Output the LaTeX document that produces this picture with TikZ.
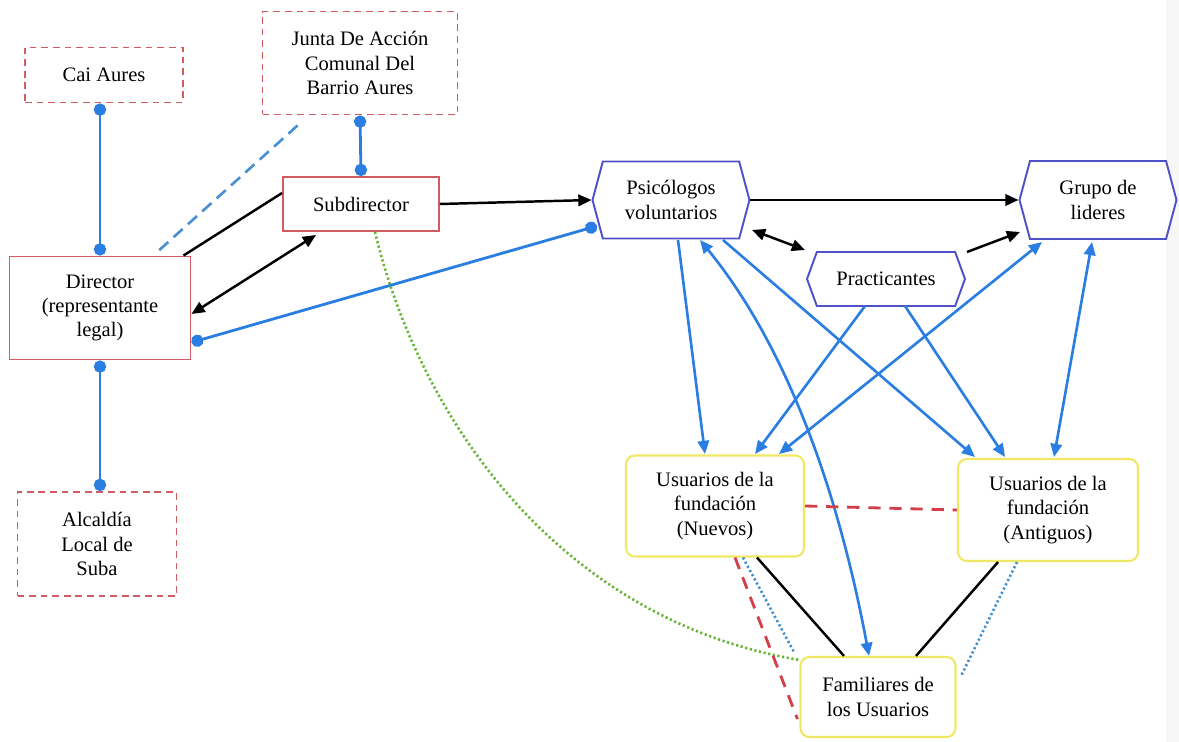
\documentclass[tikz,border=0pt]{standalone}
\usepackage{fontspec}
\setmainfont{Liberation Serif}
\usetikzlibrary{arrows.meta,shapes.symbols,calc}
\definecolor{boxred}{RGB}{208,92,98}
\definecolor{hexblue}{RGB}{80,80,200}
\definecolor{boxyel}{RGB}{240,232,100}
\definecolor{arrblue}{RGB}{42,126,226}
\definecolor{dashblue}{RGB}{74,142,212}
\definecolor{dotgreen}{RGB}{100,180,50}
\definecolor{linered}{RGB}{212,62,72}
\definecolor{dotblue}{RGB}{62,142,212}
\tikzset{
  every node/.style={font=\fontsize{11.7}{13.8}\selectfont, align=center, inner sep=2pt},
  extbox/.style={draw=boxred, line width=1.1pt, dash pattern=on 3.8pt off 2.8pt, fill=white},
  orgbox/.style={draw=boxred, line width=1.1pt, fill=white},
  hexbox/.style={shape=signal, signal to=west and east, draw=hexblue, line width=1.1pt, fill=white},
  userbox/.style={draw=boxyel, line width=1.2pt, rounded corners=5pt, fill=white},
  dotline/.style={draw=arrblue, line width=1.6pt, {Circle[length=7pt]}-{Circle[length=7pt]}},
  barrow/.style={draw=arrblue, line width=1.5pt, -{Triangle[length=7.5pt,width=6.5pt]}},
  bbarrow/.style={draw=arrblue, line width=1.5pt, {Triangle[length=7.5pt,width=6.5pt]}-{Triangle[length=7.5pt,width=6.5pt]}},
  karrow/.style={draw=black, line width=1.4pt, -{Triangle[length=7.5pt,width=6.5pt]}},
  kkarrow/.style={draw=black, line width=1.4pt, {Triangle[length=7.5pt,width=6.5pt]}-{Triangle[length=7.5pt,width=6.5pt]}},
  kline/.style={draw=black, line width=1.4pt},
  reddash/.style={draw=linered, line width=1.6pt, dash pattern=on 7pt off 5pt},
  bluedot/.style={draw=dotblue, line width=1.5pt, dash pattern=on 1.2pt off 1.5pt},
  greendot/.style={draw=dotgreen, line width=1.5pt, dash pattern=on 1.2pt off 1.5pt},
}
\begin{document}
\begin{tikzpicture}[x=0.02cm,y=-0.02cm]
\useasboundingbox (0,0) rectangle (1179,742);
\fill[gray!6] (1166,0) rectangle (1179,742);

% external organisations
\node[extbox, minimum width=3.16cm, minimum height=1.1cm] (cai) at (104,75) {Cai Aures};
\node[extbox, minimum width=3.9cm, minimum height=2.06cm] (jac) at (360,63) {Junta De Acción\\Comunal Del\\Barrio Aures};
\node[extbox, minimum width=3.18cm, minimum height=2.08cm] (alc) at (97,544) {Alcaldía\\Local de\\Suba};

% organisation
\node[orgbox, minimum width=3.12cm, minimum height=1.08cm] (sub) at (361,204) {Subdirector};
\node[orgbox, minimum width=3.62cm, minimum height=2.06cm] (dir) at (100,308) {Director\\(representante\\legal)};

% hexagons
\node[hexbox, signal pointer angle=150, minimum width=3.14cm, minimum height=1.54cm] (psi) at (671,200) {Psicólogos\\voluntarios};
\node[hexbox, signal pointer angle=150, minimum width=3.14cm, minimum height=1.56cm] (grp) at (1098,200) {Grupo de\\lideres};
\node[hexbox, signal pointer angle=140, minimum width=3.16cm, minimum height=1.08cm] (prac) at (886,279) {Practicantes};

% users
\node[userbox, minimum width=3.56cm, minimum height=2.02cm] (nue) at (715,506) {Usuarios de la\\fundación\\(Nuevos)};
\node[userbox, minimum width=3.6cm, minimum height=2.04cm] (ant) at (1048,510) {Usuarios de la\\fundación\\(Antiguos)};
\node[userbox, minimum width=3.1cm, minimum height=1.6cm] (fam) at (878,697) {Familiares de\\los Usuarios};

% dot connectors
\draw[dotline] (dir.north |- cai.south) -- (dir.north);
\draw[dotline] (jac.south) -- (sub.north);
\draw[dotline] (dir.south) -- (dir.south |- alc.north);
\draw[dotline] ($(dir.south east)+(0,-18)$) -- ($(psi.center)+(-74,26)$);

% dashed blue Junta - Director
\draw[draw=dashblue, line width=1.5pt, dash pattern=on 7pt off 4pt] ($(jac.south west)+(36,10)$) -- ($(dir.north east)+(-36,-2)$);

% black connectors
\draw[kline] ($(sub.west)+(0,-11)$) -- ($(dir.north east)+(-8,0)$);
\draw[kkarrow] ($(sub.south west)+(34,3)$) -- ($(dir.east)+(0,6)$);
\draw[karrow] (sub.east) -- (psi.west);
\draw[karrow] (psi.east) -- (grp.west);
\draw[kkarrow] ($(psi.center)+(81,30)$) -- ($(prac.center)+(-81,-29)$);
\draw[karrow] ($(prac.center)+(81,-27)$) -- ($(grp.center)+(-78,32)$);

% green dotted
\draw[greendot] ($(sub.south)+(14,0)$) .. controls (420,420) and (560,620) .. ($(fam.north west)+(0,4)$);

% blue arrows
\draw[barrow] ($(psi.center)+(7,40)$) -- ($(nue.center)+(-10,-52)$);
\draw[bbarrow] ($(psi.center)+(29,40)$) .. controls (790,350) and (840,500) .. ($(fam.north)+(-9,0)$);
\draw[barrow] ($(psi.center)+(52,40)$) -- ($(ant.center)+(-73,-53)$);
\draw[barrow] ($(prac.center)+(-21,27)$) -- ($(nue.center)+(40,-52)$);
\draw[barrow] ($(prac.center)+(19,27)$) -- ($(ant.center)+(-43,-53)$);
\draw[bbarrow] ($(grp.center)+(-56,42)$) -- ($(nue.center)+(64,-52)$);
\draw[bbarrow] ($(grp.center)+(-6,42)$) -- ($(ant.center)+(6,-53)$);

% user relations
\draw[reddash] (nue.east) -- (ant.west);
\draw[reddash] ($(nue.south)+(20,0)$) -- ($(fam.west)+(-2,22)$);
\draw[bluedot] ($(nue.south)+(28,0)$) -- ($(fam.north west)+(-5,-3)$);
\draw[kline] ($(nue.south)+(42,0)$) -- ($(fam.north)+(-34,0)$);
\draw[kline] ($(ant.south)+(-50,0)$) -- ($(fam.north)+(38,0)$);
\draw[bluedot] ($(ant.south)+(-31,0)$) -- ($(fam.east)+(4,-20)$);
\end{tikzpicture}
\end{document}
